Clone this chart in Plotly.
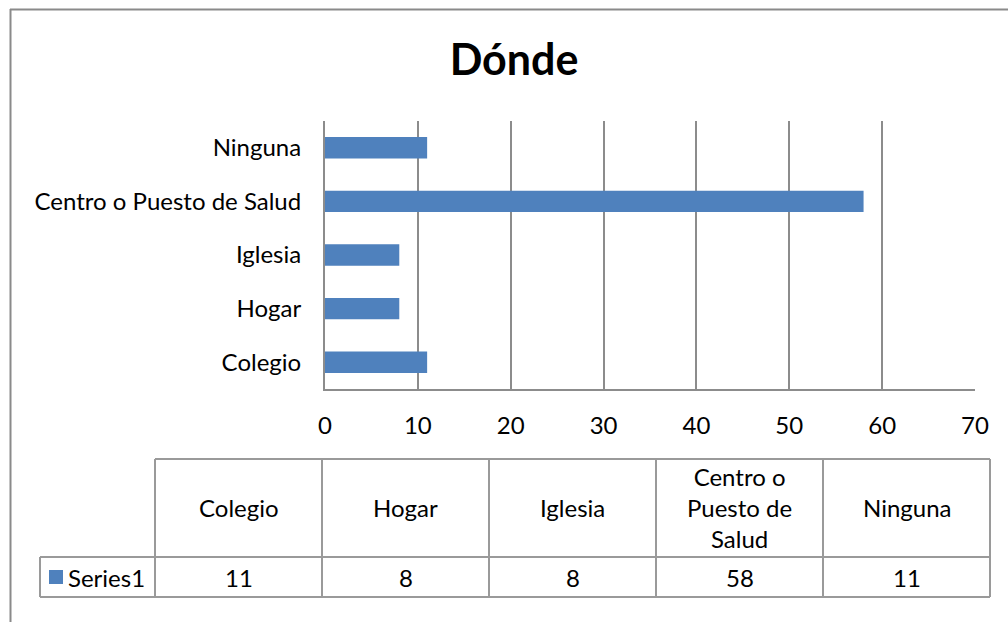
import plotly.graph_objects as go

categories = ["Colegio", "Hogar", "Iglesia", "Centro o Puesto de Salud", "Ninguna"]
values = [11, 8, 8, 58, 11]
header_labels = ["Colegio", "Hogar", "Iglesia", "Centro o<br>Puesto de<br>Salud", "Ninguna"]
series_name = "Series1"
x_ticks = [0, 10, 20, 30, 40, 50, 60, 70]
title_text = "Dónde"

W, H = 1008, 622
FONT = "Lato"
FS = 24
BAR = "#4f81bd"
GRID = "#8c8c8c"
TBL = "#9a9a9a"


def px(x):
    return x / W


def py(y):
    return 1 - y / H


fig = go.Figure()
fig.add_trace(go.Bar(
    x=values, y=categories, orientation="h",
    marker=dict(color=BAR, line=dict(width=0)),
    name=series_name, showlegend=False,
))

shapes = []
# outer chart border (only top & left visible)
shapes.append(dict(type="line", xref="paper", yref="paper",
                   x0=px(10), x1=px(1008), y0=py(9.5), y1=py(9.5),
                   line=dict(color="#8a8a8a", width=2)))
shapes.append(dict(type="line", xref="paper", yref="paper",
                   x0=px(10.5), x1=px(10.5), y0=py(9), y1=py(622),
                   line=dict(color="#8a8a8a", width=2)))

# table
col_edges = [155, 322, 489, 656, 823, 990]
top_y, mid_y, bot_y = 459, 557, 597
leg_x = 40
hl = lambda x0, x1, y: dict(type="line", xref="paper", yref="paper",
                            x0=px(x0), x1=px(x1), y0=py(y), y1=py(y),
                            line=dict(color=TBL, width=2))
vl = lambda x, y0, y1: dict(type="line", xref="paper", yref="paper",
                            x0=px(x), x1=px(x), y0=py(y0), y1=py(y1),
                            line=dict(color=TBL, width=2))
shapes.append(hl(col_edges[0], col_edges[-1], top_y))
shapes.append(hl(leg_x, col_edges[-1], mid_y))
shapes.append(hl(leg_x, col_edges[-1], bot_y))
shapes.append(vl(leg_x, mid_y, bot_y))
for x in col_edges:
    shapes.append(vl(x, top_y, bot_y))
# legend key
shapes.append(dict(type="rect", xref="paper", yref="paper",
                   x0=px(49), x1=px(63), y0=py(570), y1=py(584),
                   fillcolor=BAR, line=dict(width=0)))

annotations = []
for i, (lab, v) in enumerate(zip(header_labels, values)):
    cx = (col_edges[i] + col_edges[i + 1]) / 2
    annotations.append(dict(x=px(cx), y=py((top_y + mid_y) / 2 - 1), xref="paper", yref="paper",
                            text=lab, showarrow=False, xanchor="center", yanchor="middle",
                            font=dict(family=FONT, size=FS, color="#000")))
    annotations.append(dict(x=px(cx), y=py((mid_y + bot_y) / 2), xref="paper", yref="paper",
                            text=str(v), showarrow=False, xanchor="center", yanchor="middle",
                            font=dict(family=FONT, size=FS, color="#000")))
annotations.append(dict(x=px(66), y=py(577), xref="paper", yref="paper",
                        text=series_name, showarrow=False, xanchor="left", yanchor="middle",
                        font=dict(family=FONT, size=FS, color="#000")))

fig.update_layout(
    width=W, height=H,
    margin=dict(l=0, r=0, t=0, b=0, autoexpand=False),
    paper_bgcolor="white", plot_bgcolor="white",
    title=dict(text="<b>" + title_text + "</b>", x=px(514), xanchor="center",
               y=py(60), yanchor="middle",
               font=dict(family=FONT, size=43, color="#000")),
    bargap=0.6,
    shapes=shapes,
    annotations=annotations,
    xaxis=dict(domain=[px(325), px(975)], range=[0, 70], tickvals=x_ticks,
               showgrid=True, gridcolor=GRID, gridwidth=2, automargin=False,
               zeroline=False, showline=True, linecolor=GRID, linewidth=2,
               ticks="", ticklabelstandoff=14,
               tickfont=dict(family=FONT, size=FS, color="#000"), fixedrange=True),
    yaxis=dict(domain=[py(389), py(121)], showgrid=False, showline=True, automargin=False,
               linecolor=GRID, linewidth=2, ticks="", ticklabelstandoff=17,
               tickfont=dict(family=FONT, size=FS, color="#000"), fixedrange=True),
    showlegend=False,
)

fig.write_html("out.html", config={"displayModeBar": False})
with open("out.html", "r", encoding="utf-8") as f:
    html = f.read()
html = html.replace("<head>", "<head><style>html,body{margin:0;padding:0;overflow:hidden;}</style>", 1)
with open("out.html", "w", encoding="utf-8") as f:
    f.write(html)
